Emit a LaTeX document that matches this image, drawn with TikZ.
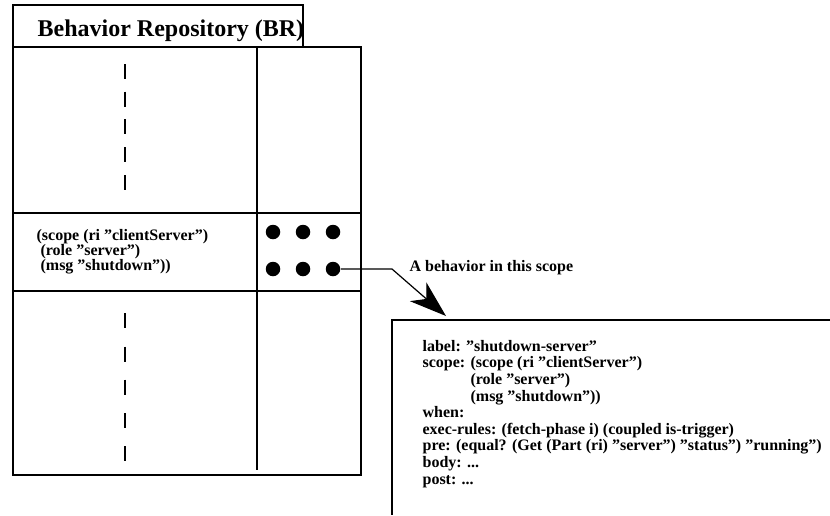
\documentclass[tikz,border=0pt]{standalone}
\usepackage{fontspec}
\setmainfont{Liberation Serif}
\usetikzlibrary{arrows.meta}

\begin{document}
\begin{tikzpicture}[x=1pt,y=-1pt,line width=1.2pt,
	every node/.style={inner sep=0pt,font=\bfseries\fontsize{16}{16.6}\selectfont},
	dot/.style={circle,fill=black,minimum size=14.5pt},
	gap/.style={line width=1.6pt}]
	\useasboundingbox (0,0) rectangle (830,515);
	% repository table
	\draw (13,47) rectangle (303,5);
	\node[anchor=base west,font=\bfseries\fontsize{24}{26}\selectfont] (title) at (37,36) {Behavior Repository (BR)};
	\draw (13,47) rectangle (361,475);
	\draw (257,47) -- (257,470);
	\draw (13,213) -- (361,213);
	\draw (13,291) -- (361,291);
	\foreach \y in {64,91.5,119,147,175} \draw[gap] (125,\y) -- ++(0,15);
	\foreach \y in {313,346.5,379.5,413,446} \draw[gap] (125,\y) -- ++(0,15);
	% the scope row
	\node[anchor=north west,align=left,font=\bfseries\fontsize{16}{15}\selectfont] (key) at (36,229)
		{(scope (ri ”clientServer”)\\\ (role ”server”)\\\ (msg ”shutdown”))};
	\foreach \i/\x/\y in {1/273/232,2/303/232,3/333/232,4/273/269,5/303/269,6/333/269}
		\node[dot] (d\i) at (\x,\y) {};
	% behavior record
	\draw (830,320) -- (392,320) -- (392,515);
	\node[anchor=north west,align=left] (beh) at (422,339.5)
		{label: ”shutdown-server”\\
		scope: (scope (ri ”clientServer”)\\
		\hphantom{scope: }(role ”server”)\\
		\hphantom{scope: }(msg ”shutdown”))\\
		when:\\
		exec-rules: (fetch-phase i) (coupled is-trigger)\\
		pre: (equal? (Get (Part (ri) ”server”) ”status”) ”running”)\\
		body: ...\\
		post: ...};
	\coordinate (tip) at (446,316);
	\draw[-{Stealth[length=37pt,width=25pt,inset=11pt]}] (d6) -- (392,269) -- (tip);
	\node[anchor=base west] (lbl) at (409,271) {A behavior in this scope};
\end{tikzpicture}
\end{document}
